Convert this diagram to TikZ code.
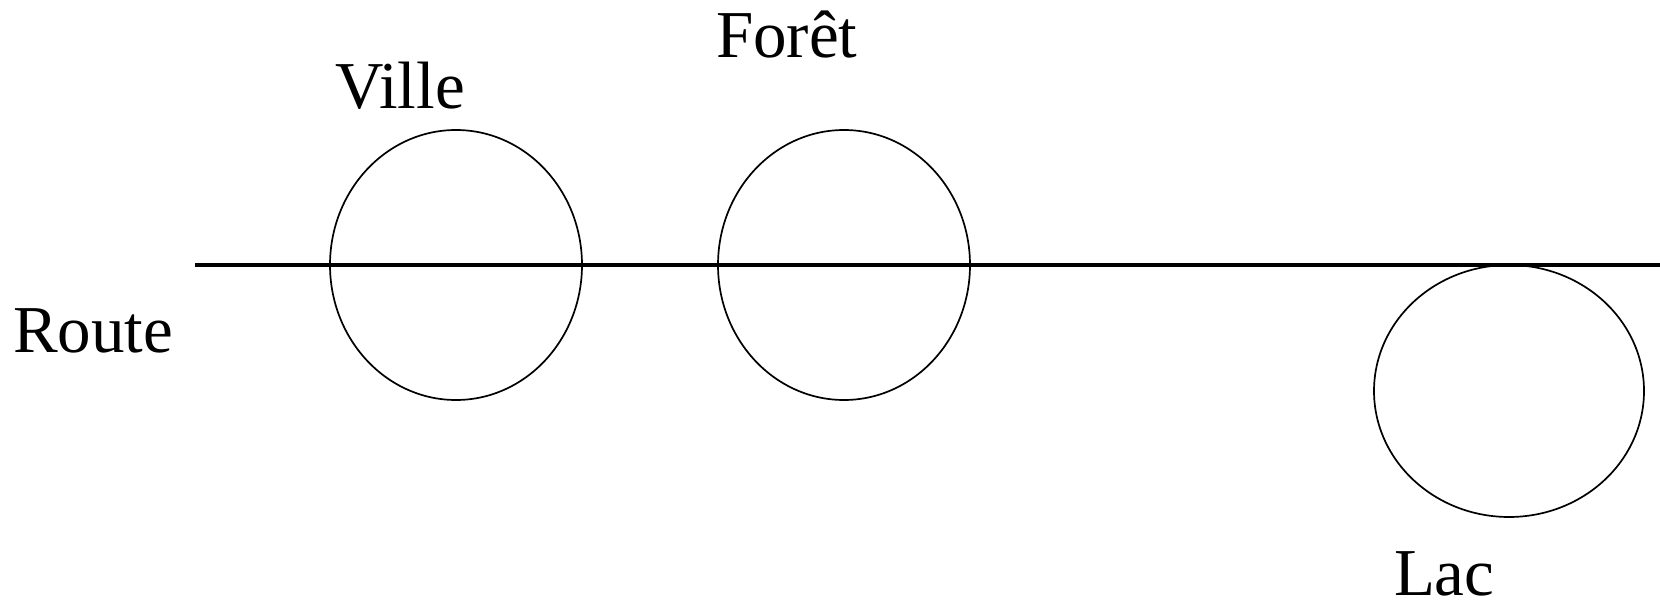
\documentclass[tikz,border=0pt]{standalone}
\usepackage{fontspec}
\setmainfont{Liberation Serif}
\usetikzlibrary{shapes.geometric}
\tikzset{
  area/.style={draw, ellipse, line width=1.7pt, inner sep=0pt, outer sep=0pt},
  lbl/.style={anchor=base west, inner sep=0pt, outer sep=0pt, font=\fontsize{67}{80}\selectfont},
  road/.style={line width=3.2pt}
}
\begin{document}
\begin{tikzpicture}[x=1pt,y=-1pt]
\useasboundingbox (0,0) rectangle (1660,601);
\node[area, minimum width=252pt, minimum height=270pt] (ville) at (456,265) {};
\node[area, minimum width=252pt, minimum height=270pt] (foret) at (844,265) {};
\node[area, minimum width=270pt, minimum height=252pt] (lac) at (1509,391) {};
\coordinate (rs) at (195,265);
\coordinate (re) at (1660,265);
\draw[road] (rs) -- (re);
\node[lbl] (tville) at (335,109) {Ville};
\node[lbl] (tforet) at (716,58) {Forêt};
\node[lbl] (troute) at (13,353) {Route};
\node[lbl] (tlac) at (1394,595) {Lac};
\end{tikzpicture}
\end{document}
